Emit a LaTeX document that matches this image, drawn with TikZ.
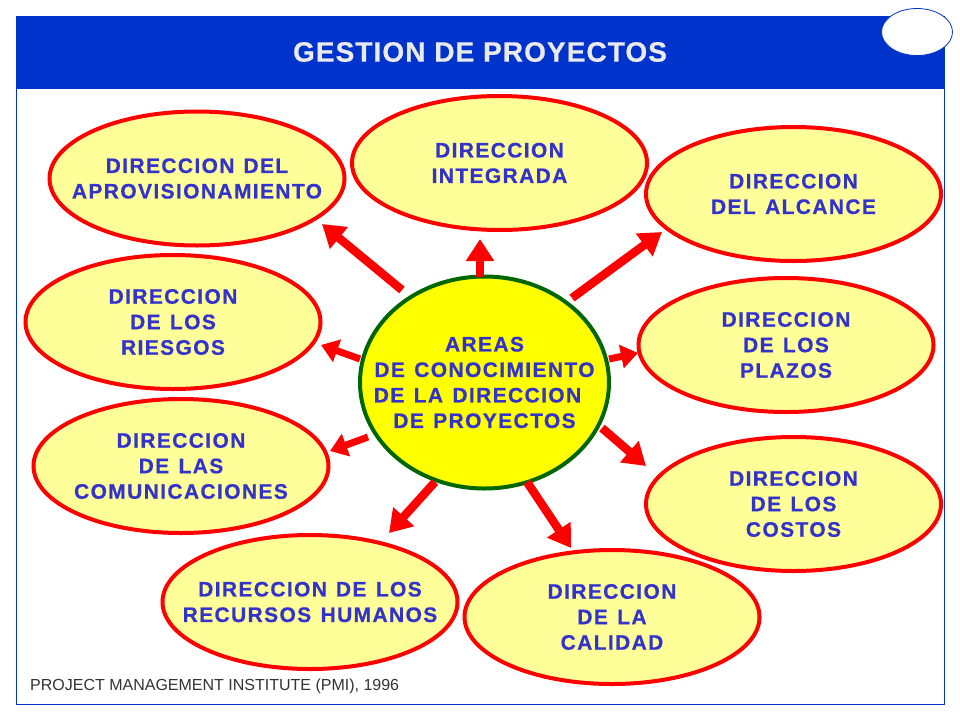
\documentclass[tikz,border=0pt]{standalone}
\usepackage{fontspec}
\setmainfont{Liberation Sans}
\newfontfamily\spacedfont[LetterSpace=6.5,BoldFeatures={FakeBold=0.6},WordSpace=1.3]{Liberation Sans}
\newfontfamily\titlefont[LetterSpace=3.8,BoldFeatures={FakeBold=0.6}]{Liberation Sans}
\usetikzlibrary{shapes.geometric,arrows.meta,calc}
\definecolor{bandblue}{HTML}{0033CC}
\definecolor{textblue}{HTML}{3333CC}
\definecolor{pale}{HTML}{FFFF99}
\definecolor{hubyellow}{HTML}{FFFF00}
\definecolor{ringgreen}{HTML}{006600}
\definecolor{titlewhite}{HTML}{EAEAEA}
\definecolor{arrowred}{HTML}{FF0000}
\tikzset{
  area/.style={ellipse,draw=arrowred,fill=pale,line width=4pt,inner ysep=0pt,inner xsep=-60pt,
    minimum width=295pt,minimum height=134pt,align=center,text=textblue,
    font=\spacedfont\bfseries\fontsize{21}{25.5}\selectfont},
  hub/.style={area,draw=ringgreen,fill=hubyellow,minimum width=249pt,minimum height=212pt},
  bigarrow/.style={draw=arrowred,line width=8.5pt,-{Triangle[length=22pt,width=27pt,fill=arrowred]}},
  smallarrow/.style={draw=arrowred,line width=7pt,-{Triangle[length=17pt,width=23pt,fill=arrowred]}}
}
\begin{document}
\begin{tikzpicture}[x=1pt,y=-1pt]
\useasboundingbox (0,0) rectangle (960,720);
\node[draw=bandblue,fill=white,line width=1pt,minimum width=928pt,minimum height=688pt,inner sep=0pt] (frame) at (480.5,360.5) {};
\node[fill=bandblue,minimum width=929pt,minimum height=73pt,inner sep=0pt] (band) at (480.5,52.5) {};
\node[text=titlewhite,font=\titlefont\bfseries\fontsize{28}{32}\selectfont,inner sep=0pt] (title) at (480,52) {GESTION DE PROYECTOS};
\node[ellipse,draw=bandblue,fill=white,line width=0.8pt,minimum width=71pt,minimum height=47pt,inner sep=0pt] (badge) at (917,32) {};

\node[area] (aprov) at (197,178.5) {DIRECCION\hspace{9pt}DEL\\APROVISIONAMIENTO};
\node[area] (integ) at (499.5,163) {DIRECCION\\INTEGRADA};
\node[area] (alcan) at (793.5,194) {DIRECCION\\DEL ALCANCE};
\node[area] (plazo) at (786,345) {DIRECCION\\DE LOS\\PLAZOS};
\node[area] (costo) at (793.5,504) {DIRECCION\\DE LOS\\COSTOS};
\node[area] (calid) at (612,617) {DIRECCION\\DE LA\\CALIDAD};
\node[area] (human) at (310,602) {DIRECCION\hspace{9pt}DE LOS\\RECURSOS HUMANOS};
\node[area] (comun) at (181,466) {DIRECCION\\DE LAS\\COMUNICACIONES};
\node[area] (riesg) at (173,322) {DIRECCION\\DE LOS\\RIESGOS};
\node[hub] (centro) at (484.5,382.5) {AREAS\\DE CONOCIMIENTO\\DE LA DIRECCION\rule{14pt}{0pt}\\DE PROYECTOS};

\node[font=\fontsize{16}{19}\selectfont,anchor=west,inner sep=0pt,text=black!80] (source) at (30,686) {PROJECT MANAGEMENT INSTITUTE (PMI), 1996};

\coordinate (tNW) at ($(centro)+(-82.5,-92.5)$);
\coordinate (hNW) at ($(aprov)+(125,45.5)$);
\coordinate (tN) at ($(centro)+(-4.5,-106)$);
\coordinate (hN) at ($(integ)+(-19.5,76)$);
\coordinate (tNE) at ($(centro)+(87.5,-84.5)$);
\coordinate (hNE) at ($(alcan)+(-131.5,38)$);
\coordinate (tW) at ($(centro)+(-124.5,-23.5)$);
\coordinate (hW) at ($(riesg)+(148,23)$);
\coordinate (tE) at ($(centro)+(124.5,-23.5)$);
\coordinate (hE) at ($(plazo)+(-148,8)$);
\coordinate (tSE) at ($(centro)+(117.5,45.5)$);
\coordinate (hSE) at ($(costo)+(-147.5,-38)$);
\coordinate (tS) at ($(centro)+(42.5,99.5)$);
\coordinate (hS) at ($(calid)+(-41,-69)$);
\coordinate (tSW) at ($(centro)+(-49.5,99.5)$);
\coordinate (hSW) at ($(human)+(79,-69)$);
\coordinate (tWS) at ($(centro)+(-116.5,54.5)$);
\coordinate (hWS) at ($(comun)+(149,-15)$);

\draw[bigarrow] (tNW) -- (hNW);
\draw[bigarrow] (tN) -- (hN);
\draw[bigarrow] (tNE) -- (hNE);
\draw[smallarrow] (tW) -- (hW);
\draw[smallarrow] (tE) -- (hE);
\draw[smallarrow] (tWS) -- (hWS);
\draw[bigarrow] (tSE) -- (hSE);
\draw[bigarrow] (tS) -- (hS);
\draw[bigarrow] (tSW) -- (hSW);
\end{tikzpicture}
\end{document}
